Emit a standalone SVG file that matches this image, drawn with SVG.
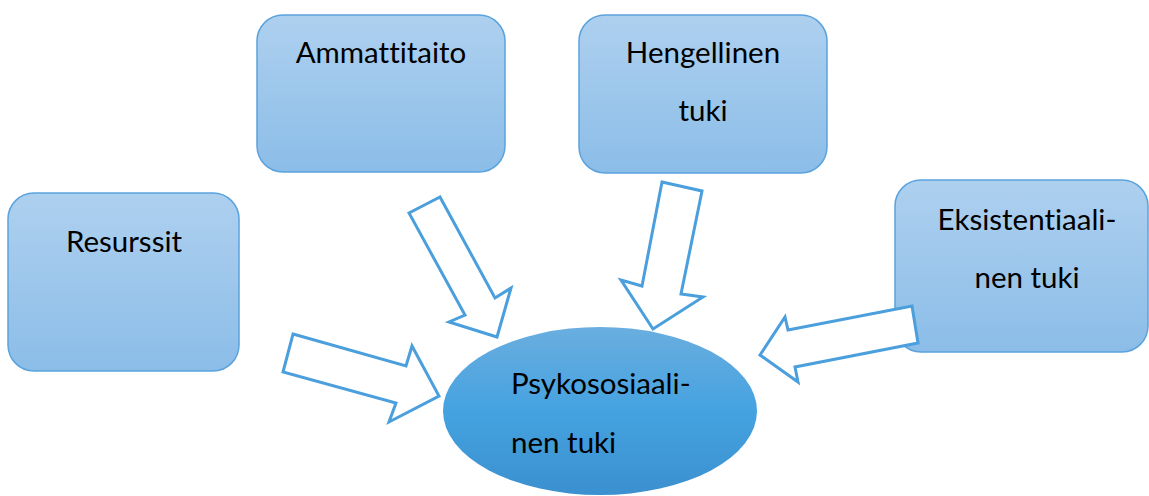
<svg xmlns="http://www.w3.org/2000/svg" width="1149" height="496" viewBox="0 0 1149 496">
  <style>
    .box { fill: url(#boxFill); stroke: #5ba3dc; stroke-width: 1.5; }
    .hub { fill: url(#hubFill); }
    .lbl { font-family: Lato, "Open Sans", sans-serif; font-size: 29.5px; fill: #000; font-variant-ligatures: none; font-feature-settings: "liga" 0, "dlig" 0; }
    .mid { text-anchor: middle; }
    .arrow { fill: #fff; stroke: #4a9fdc; stroke-width: 3; stroke-linejoin: miter; }
  </style>
  <defs>
    <linearGradient id="boxFill" x1="0" y1="0" x2="0" y2="1">
      <stop offset="0" stop-color="#aed0ef"/>
      <stop offset="1" stop-color="#8bbde8"/>
    </linearGradient>
    <linearGradient id="hubFill" x1="0" y1="0" x2="0" y2="1">
      <stop offset="0" stop-color="#6aaedf"/>
      <stop offset="0.5" stop-color="#45a2e0"/>
      <stop offset="1" stop-color="#3b90cf"/>
    </linearGradient>
  </defs>

  <!-- source boxes -->
  <g id="resurssit">
    <rect class="box" x="8" y="193" width="231" height="178" rx="26"/>
    <text class="lbl mid" x="124" y="252">Resurssit</text>
  </g>
  <g id="ammattitaito">
    <rect class="box" x="257" y="15" width="248" height="157" rx="26"/>
    <text class="lbl mid" x="381" y="63">Ammattitaito</text>
  </g>
  <g id="hengellinen">
    <rect class="box" x="579" y="15" width="248" height="158" rx="26"/>
    <text class="lbl mid" x="703" y="63">Hengellinen</text>
    <text class="lbl mid" x="703" y="121">tuki</text>
  </g>
  <g id="eksistentiaalinen">
    <rect class="box" x="895" y="180" width="253" height="172" rx="26"/>
    <text class="lbl mid" x="1027" y="230">Eksistentiaali-</text>
    <text class="lbl mid" x="1027" y="288">nen tuki</text>
  </g>

  <!-- central ellipse -->
  <g id="psykososiaalinen">
    <ellipse class="hub" cx="600" cy="411" rx="157" ry="84"/>
    <text class="lbl" x="511" y="394">Psykososiaali-</text>
    <text class="lbl" x="511" y="453">nen tuki</text>
  </g>

  <!-- block arrows pointing into the ellipse -->
  <g id="connectors">
    <polygon class="arrow" points="409,213 440,197 495,298 511,288 497,337 449,322 465,315"/>
    <polygon class="arrow" points="293,334 406,366 412,346 439,396 389,422 396,403 283,372"/>
    <polygon class="arrow" points="662,182 702,191 681,294 703,297 653,329 621,280 642,286"/>
    <polygon class="arrow" points="912,306 918,343 795,367 798,382 760,355 785,317 788,330"/>
  </g>
</svg>
